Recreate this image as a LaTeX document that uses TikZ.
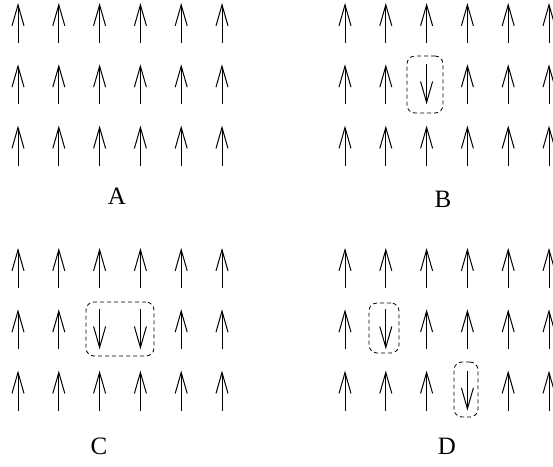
\documentclass[tikz,border=0pt]{standalone}
\usepackage{fontspec}
\setmainfont{Liberation Serif}
\usetikzlibrary{arrows.meta}
\tikzset{
  spin/.style={line width=1pt,-{Straight Barb[length=21pt,width=12pt,line width=1pt]}},
  flipbox/.style={draw, dash pattern=on 4pt off 3pt, line width=0.8pt, rounded corners=8pt, draw=black},
  panel/.style={font=\fontsize{25}{25}\selectfont}
}
\begin{document}
\begin{tikzpicture}[x=1pt,y=-1pt]
\useasboundingbox (0,0) rectangle (553,466);
% up spins, skipping the flipped ones
\foreach \ox/\oy/\p in {0/0/A,327/0/B,0/245/C,327/245/D}{
  \foreach \c in {0,...,5}{
    \foreach \r in {0,1,2}{
      \pgfmathsetmacro{\xx}{\ox+18+40.8*\c}
      \pgfmathsetmacro{\yy}{\oy+23+61.3*\r}
      \def\dn{0}
      \ifnum\r=1
        \if\p B\ifnum\c=2 \def\dn{1}\fi\fi
        \if\p C\ifnum\c=2 \def\dn{1}\fi\ifnum\c=3 \def\dn{1}\fi\fi
        \if\p D\ifnum\c=1 \def\dn{1}\fi\fi
      \fi
      \ifnum\r=2
        \if\p D\ifnum\c=3 \def\dn{1}\fi\fi
      \fi
      \ifnum\dn=1
        \draw[spin] (\xx,\yy-20) -- (\xx,\yy+20);
      \else
        \draw[spin] (\xx,\yy+20) -- (\xx,\yy-20);
      \fi
    }
  }
}
% flipped regions
\node[flipbox, minimum width=36pt, minimum height=57pt] (fb) at (425,84.5) {};
\node[flipbox, minimum width=68pt, minimum height=54pt] (fc) at (120,329) {};
\node[flipbox, minimum width=30pt, minimum height=50pt] (fd1) at (384,328) {};
\node[flipbox, minimum width=24pt, minimum height=55pt] (fd2) at (466,389.5) {};
% labels
\node[panel] (la) at (117,196) {A};
\node[panel] (lb) at (443,199) {B};
\node[panel] (lc) at (99,446) {C};
\node[panel] (ld) at (447,446) {D};
\end{tikzpicture}
\end{document}
